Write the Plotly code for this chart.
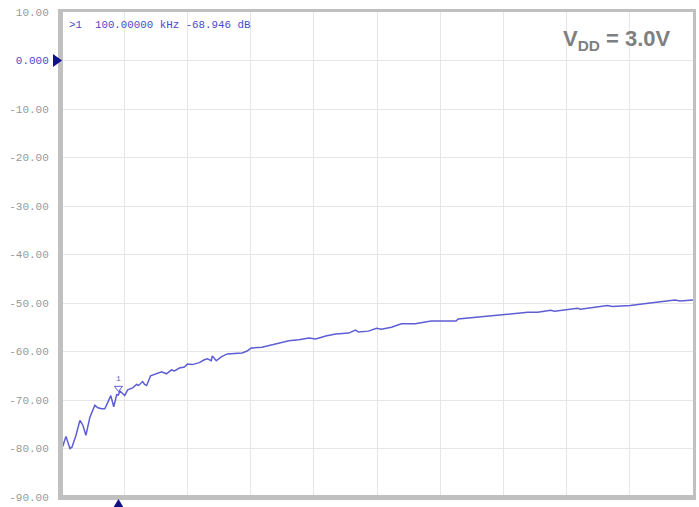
import plotly.graph_objects as go

# Sweep: 10 kHz .. 1 MHz linear, magnitude in dB
freq_khz = [10, 13.1, 17.8, 24.0, 27.1, 33.4, 39.6, 44.3, 49.0, 55.2, 63.0, 67.7, 73.9,
            78.6, 83.3, 88.0, 92.6, 97.3, 100, 102.0, 109.8, 114.5, 122.2, 128.5, 131.6,
            137.8, 141.0, 144.1, 150.3, 159.7, 167.5, 175.3, 183.0, 187.7, 195.5, 203.3,
            208.0, 215.8, 226.7, 234.5, 239.2, 245.4, 247.0, 253.2, 261.0, 270.4, 284.4,
            293.7, 301.5, 307.8, 324.9, 340.5, 351.4, 367.0, 382.6, 398.2, 409.1, 424.7,
            440.3, 460.6, 471.5, 476.1, 491.7, 504.2, 512.0, 527.6, 543.2, 565.0, 580.6,
            589.9, 608.7, 628.9, 632.0, 663.2, 705.3, 741.2, 756.8, 777.0, 783.3, 803.5,
            819.1, 823.8, 855.0, 865.9, 873.7, 901.7, 932.9, 943.8, 971.9, 979.7, 1000]
mag_db = [-80.2, -79.4, -77.5, -80.0, -79.75, -77.3, -74.2, -75.2, -77.3, -73.6, -71.1,
          -71.6, -71.8, -71.8, -70.5, -69.1, -71.4, -68.9, -68.946, -68.1, -69.1, -67.9,
          -67.5, -66.8, -67.0, -66.2, -66.8, -67.0, -65.0, -64.6, -64.2, -64.6, -63.8,
          -64.0, -63.4, -63.2, -62.6, -62.7, -62.3, -61.7, -61.5, -61.9, -60.9, -61.9,
          -61.1, -60.5, -60.3, -60.3, -59.9, -59.3, -59.1, -58.6, -58.2, -57.8, -57.6,
          -57.2, -57.4, -56.8, -56.4, -56.2, -55.6, -56.0, -55.8, -55.2, -55.4, -55.0,
          -54.3, -54.3, -53.9, -53.7, -53.7, -53.7, -53.3, -52.9, -52.5, -51.9, -51.9,
          -51.5, -51.7, -51.3, -51.1, -51.3, -50.7, -50.5, -50.7, -50.5, -50.0, -49.8,
          -49.4, -49.6, -49.4]

y_ticks = [10, 0, -10, -20, -30, -40, -50, -60, -70, -80, -90]
y_tick_text = ["10.00", "<span style='color:#4a4ac8'>0.000</span>", "-10.00", "-20.00",
               "-30.00", "-40.00", "-50.00", "-60.00", "-70.00", "-80.00", "-90.00"]

marker_freq = 100
marker_db = -68.946
ref_level_db = 0

x_range = [10, 1000]
y_range = [-90, 10]

trace_color = "#5e5ed4"
navy = "#10108a"
frame = "#c0c0c0"

fig = go.Figure()
fig.add_trace(go.Scatter(x=freq_khz, y=mag_db, mode="lines",
                         line=dict(color=trace_color, width=1.5), hoverinfo="skip"))

# marker 1 flag on the trace
fig.add_trace(go.Scatter(x=[marker_freq], y=[marker_db + 1.4], mode="markers+text",
                         marker=dict(symbol="triangle-down-open", size=7,
                                     color=trace_color, line=dict(width=1)),
                         text=["1"], textposition="top center",
                         textfont=dict(family="Liberation Mono", size=8, color=trace_color),
                         hoverinfo="skip"))

# heavier left and bottom frame edges
fig.add_shape(type="line", xref="paper", yref="paper", x0=0, x1=0, y0=0, y1=1,
              xsizemode="pixel", xanchor=0, line=dict(color=frame, width=4))
fig.add_shape(type="line", xref="paper", yref="paper", x0=0, x1=1, y0=0, y1=0,
              line=dict(color=frame, width=4))

# stimulus marker below the plot, at the marker frequency
mx = (marker_freq - x_range[0]) / (x_range[1] - x_range[0])
fig.add_shape(type="path", xref="paper", yref="paper", xsizemode="pixel",
              ysizemode="pixel", xanchor=mx, yanchor=0,
              path="M -6,-12 L 6,-12 L 0,-2 Z", fillcolor=navy, line=dict(width=0))

# reference level arrow on the left edge
ry = (ref_level_db - y_range[0]) / (y_range[1] - y_range[0])
fig.add_shape(type="path", xref="paper", yref="paper", xsizemode="pixel",
              ysizemode="pixel", xanchor=0, yanchor=ry,
              path="M -8,-6.5 L -8,6.5 L 1,0 Z", fillcolor=navy, line=dict(width=0))

fig.add_annotation(x=0.009, y=0.99, xref="paper", yref="paper", xanchor="left",
                   yanchor="top", showarrow=False,
                   text=">1  100.00000 kHz -68.946 dB",
                   font=dict(family="Liberation Mono", size=10.8, color="#4a4ac8"))

fig.add_annotation(x=0.968, y=0.942, xref="paper", yref="paper", xanchor="right",
                   yanchor="middle", showarrow=False,
                   text="<b>V<sub>DD</sub> = 3.0V</b>",
                   font=dict(family="Liberation Sans", size=22, color="#7f7f7f"))

fig.update_xaxes(range=x_range, tick0=10, dtick=99, showticklabels=False,
                 ticks="", showgrid=True, gridcolor="#e6e6e6", gridwidth=1,
                 zeroline=False, showline=True, linecolor=frame, linewidth=3,
                 mirror=True)
fig.update_yaxes(range=y_range, tickvals=y_ticks, ticktext=y_tick_text, ticks="",
                 ticklabelstandoff=7,
                 tickfont=dict(family="Liberation Mono", size=11, color="#999999"),
                 showgrid=True, gridcolor="#e6e6e6", gridwidth=1, zeroline=False,
                 showline=True, linecolor=frame, linewidth=3, mirror=True)

fig.update_layout(width=699, height=507, showlegend=False,
                  margin=dict(l=61, r=3, t=12, b=7),
                  paper_bgcolor="white", plot_bgcolor="white")

fig.write_html("out.html")
